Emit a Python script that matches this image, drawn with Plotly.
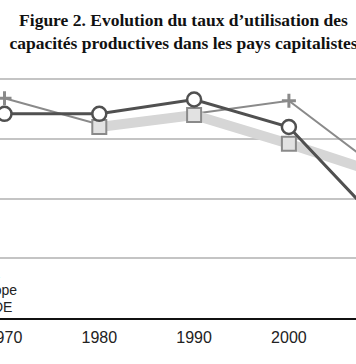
import plotly.graph_objects as go

years = [1970, 1980, 1990, 2000, 2010]
europe = [87.1, 87.1, 88.3, 86.0, 77.6]
usa = [88.4, 86.2, 87.1, 88.2, 82.2]
ocde = [None, 86.0, 87.0, 84.6, 82.0]
tick_years = [1970, 1980, 1990, 2000]
legend_labels = ["USA", "Europe", "OCDE"]
title_text = "Figure 2. Evolution du taux d’utilisation des<br>capacités productives dans les pays capitalistes"

W, H = 356, 364
T, B = 78, 46
PH = H - T - B
fig = go.Figure()

fig.add_trace(go.Scatter(
    x=years, y=usa, name=legend_labels[0], mode="lines+markers",
    line=dict(color="#8a8a8a", width=2),
    marker=dict(symbol="cross-thin", size=10, color="#8a8a8a",
                line=dict(color="#8a8a8a", width=3)),
))
fig.add_trace(go.Scatter(
    x=years, y=ocde, name=legend_labels[2], mode="lines+markers",
    line=dict(color="#d6d6d6", width=10),
    marker=dict(symbol="square", size=14, color="#e2e2e2",
                line=dict(color="#8a8a8a", width=2)),
))
fig.add_trace(go.Scatter(
    x=years, y=europe, name=legend_labels[1], mode="lines+markers",
    line=dict(color="#505050", width=3),
    marker=dict(symbol="circle", size=14, color="white",
                line=dict(color="#505050", width=2.5)),
))

# legend text (partially outside the figure, as in the reference)
leg_pos = [(2, 272.5), (19, 289.5), (14, 306.5)]
for lab, (xr, yp) in zip(legend_labels, leg_pos):
    fig.add_annotation(
        x=xr / W, y=(H - B - yp) / PH, xref="paper", yref="paper",
        text=lab, showarrow=False, xanchor="right", yanchor="middle",
        font=dict(family="Liberation Sans, Arial", size=14, color="#222222"),
    )

fig.update_layout(
    template="none",
    width=W, height=H,
    margin=dict(l=0, r=0, t=T, b=B, pad=0),
    paper_bgcolor="white", plot_bgcolor="white",
    showlegend=False,
    title=dict(
        text=title_text, x=183.5 / W, xanchor="center", xref="paper",
        y=1 - 26 / H, yanchor="top", yref="container", automargin=False,
        font=dict(family="Liberation Serif, Times New Roman", size=17.5,
                  color="#111111", weight="bold"),
    ),
    xaxis=dict(
        range=[1970 - 4.5 / 9.48, 1970 + 351.5 / 9.48],
        tickvals=tick_years, ticktext=[str(t) for t in tick_years],
        showgrid=False, zeroline=False, automargin=False,
        showline=True, linecolor="#111111", linewidth=2,
        ticks="", ticklabeloverflow="allow", ticklabelstandoff=4,
        tickfont=dict(family="Liberation Sans, Arial", size=16, color="#222222"),
    ),
    yaxis=dict(
        range=[70, 90.1], dtick=5, tick0=70, automargin=False,
        showgrid=True, gridcolor="#c4c4c4", gridwidth=1.5,
        zeroline=False, showticklabels=False, ticks="",
    ),
)

fig.write_html("out.html", config={"displayModeBar": False},
               post_script="document.body.style.margin='0';document.body.style.overflow='hidden';")
